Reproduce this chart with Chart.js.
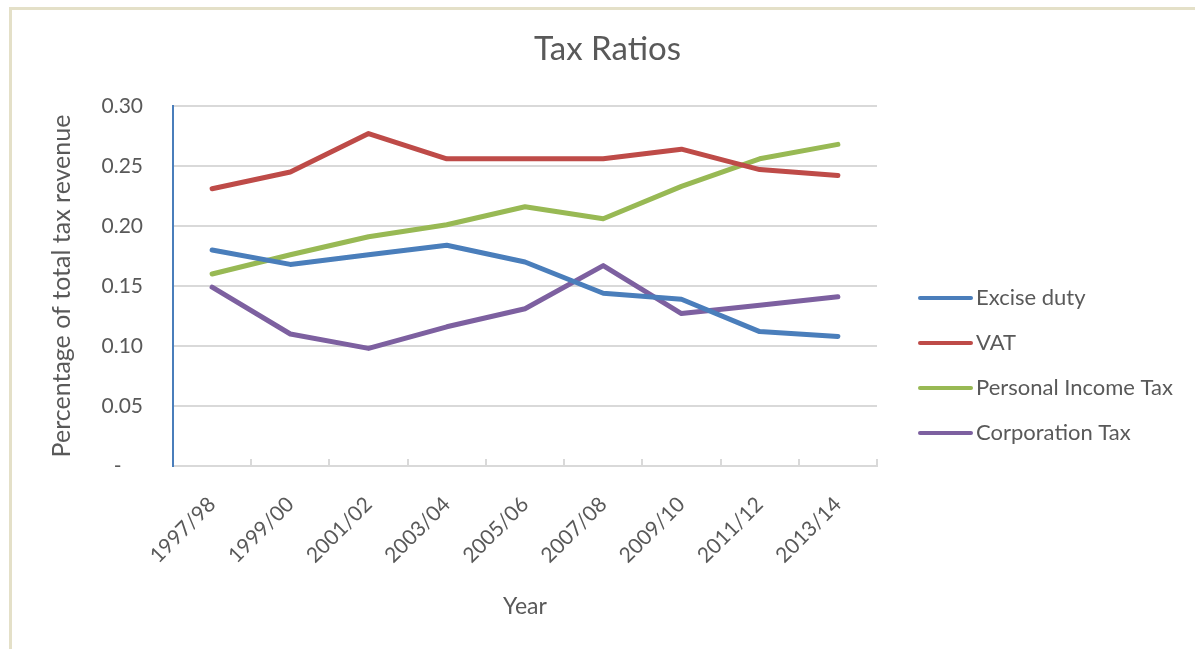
<!DOCTYPE html>
<html>
<head>
<meta charset="utf-8">
<script src="https://cdn.jsdelivr.net/npm/chart.js@4"></script>
<style>
  html, body { margin: 0; padding: 0; background: #ffffff; }
  #wrap { position: relative; width: 1195px; height: 649px; overflow: hidden; }
  #frame { position: absolute; left: 9px; top: 7px; width: 1200px; height: 700px;
           border-left: 3px solid #e4e0c8; border-top: 3px solid #e4e0c8; }
  canvas { position: absolute; left: 0; top: 0; }
</style>
</head>
<body>
<div id="wrap">
  <div id="frame"></div>
  <canvas id="c" width="1195" height="649"></canvas>
</div>
<script>
const categories = ['1997/98','1999/00','2001/02','2003/04','2005/06','2007/08','2009/10','2011/12','2013/14'];
const exciseDuty = [0.180, 0.168, 0.176, 0.184, 0.170, 0.144, 0.139, 0.112, 0.108];
const vat = [0.231, 0.245, 0.277, 0.256, 0.256, 0.256, 0.264, 0.247, 0.242];
const personalIncomeTax = [0.160, 0.176, 0.191, 0.201, 0.216, 0.206, 0.233, 0.256, 0.268];
const corporationTax = [0.149, 0.110, 0.098, 0.116, 0.131, 0.167, 0.127, 0.134, 0.141];
const seriesNames = ['Excise duty', 'VAT', 'Personal Income Tax', 'Corporation Tax'];
const yTicks = [0, 0.05, 0.10, 0.15, 0.20, 0.25, 0.30];

const FONT = 'Lato, Carlito, "Open Sans", sans-serif';
const TXT = '#595959';
const colors = ['#4a7ebb', '#be4b48', '#98b954', '#7d60a0'];
const values = [exciseDuty, vat, personalIncomeTax, corporationTax];

const legendPlugin = {
  id: 'sideLegend',
  afterDraw(chart) {
    const ctx = chart.ctx;
    const a = chart.chartArea;
    const x0 = a.right + 41;
    const y0 = a.top + 192;
    ctx.save();
    ctx.font = '22px ' + FONT;
    ctx.textBaseline = 'middle';
    ctx.textAlign = 'left';
    chart.data.datasets.forEach((ds, i) => {
      const y = y0 + i * 45;
      ctx.strokeStyle = ds.borderColor;
      ctx.lineWidth = 4;
      ctx.lineCap = 'round';
      ctx.beginPath();
      ctx.moveTo(x0 + 2, y);
      ctx.lineTo(x0 + 53, y);
      ctx.stroke();
      ctx.fillStyle = TXT;
      ctx.fillText(ds.label, x0 + 58, y);
    });
    ctx.restore();
  }
};

new Chart(document.getElementById('c'), {
  type: 'line',
  data: {
    labels: categories,
    datasets: values.map((v, i) => ({
      label: seriesNames[i],
      data: v,
      yAxisID: 'y',
      borderColor: colors[i],
      backgroundColor: colors[i],
      borderWidth: 5,
      pointRadius: 0,
      pointHoverRadius: 0,
      tension: 0,
      fill: false,
      borderCapStyle: 'round',
      borderJoinStyle: 'round'
    }))
  },
  options: {
    responsive: false,
    animation: false,
    devicePixelRatio: 1,
    layout: { padding: { left: 20, right: 0, top: 0, bottom: 0 } },
    plugins: {
      legend: { display: false },
      tooltip: { enabled: false },
      title: {
        display: true,
        text: 'Tax Ratios',
        color: TXT,
        font: { family: FONT, size: 33, weight: 'normal' },
        padding: { top: 30, bottom: 36.4 }
      }
    },
    scales: {
      x: {
        type: 'category',
        offset: true,
        grid: { display: true, drawOnChartArea: false, drawTicks: true, tickLength: -7, color: '#d9d9d9', lineWidth: 2, offset: true },
        border: { display: true, color: '#d9d9d9', width: 2 },
        ticks: {
          color: TXT,
          font: { family: FONT, size: 21 },
          minRotation: 45, maxRotation: 45,
          padding: 33,
          autoSkip: false
        },
        title: {
          display: true, text: 'Year', color: TXT,
          font: { family: FONT, size: 23 },
          padding: { top: 0, bottom: 29 }
        },
        afterFit(scale) { scale.height = 183; }
      },
      y: {
        min: 0, max: 0.30,
        afterBuildTicks(scale) { scale.ticks = yTicks.map(v => ({ value: v })); },
        grid: { color: '#d9d9d9', lineWidth: 2, drawTicks: false },
        border: { display: true, color: '#4a7ebb', width: 2 },
        ticks: {
          color: TXT,
          font: { family: FONT, size: 21 },
          padding: 30,
          callback: (v) => (v === 0 ? '-    ' : v.toFixed(2))
        },
        title: {
          display: true, text: 'Percentage of total tax revenue', color: TXT,
          font: { family: FONT, size: 25 },
          padding: { top: 27, bottom: 0 }
        },
        afterFit(scale) { scale.width = 153; }
      },
      legendSpace: {
        type: 'linear',
        position: 'right',
        display: true,
        grid: { display: false, drawOnChartArea: false, drawTicks: false },
        border: { display: false },
        ticks: { display: false },
        afterFit(scale) { scale.width = 318; }
      }
    }
  },
  plugins: [legendPlugin]
});
</script>
</body>
</html>
